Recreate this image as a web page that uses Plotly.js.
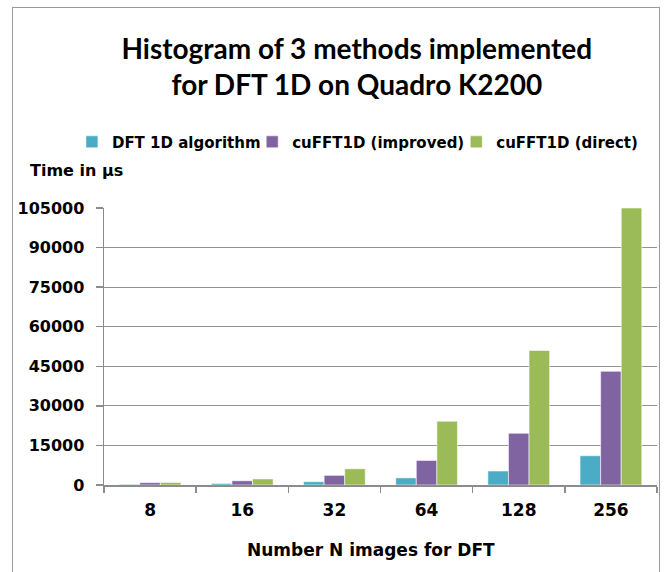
<!DOCTYPE html>
<html>
<head>
<meta charset="utf-8">
<script src="https://cdn.plot.ly/plotly-3.0.1.min.js"></script>
<style>
  html, body { margin: 0; padding: 0; background: #fff; }
  #wrap { position: relative; width: 667px; height: 572px; overflow: hidden; }
  #chart { position: absolute; left: 0; top: 0; width: 667px; height: 572px; }
  #frame { position: absolute; left: 12px; top: 7px; width: 646px; height: 640px;
           border: 1.5px solid #9a9a9a; pointer-events: none; }
</style>
</head>
<body>
<div id="wrap">
  <div id="chart"></div>
  <div id="frame"></div>
</div>
<script>
const categories = ['8', '16', '32', '64', '128', '256'];
const seriesNames = ['DFT 1D algorithm', 'cuFFT1D (improved)', 'cuFFT1D (direct)'];
const dft1d      = [250, 600, 1250, 2700, 5300, 11100];
const cufftImpr  = [900, 1600, 3650, 9300, 19600, 43100];
const cufftDir   = [950, 2300, 6150, 24200, 51000, 105000];
const yTicks     = [0, 15000, 30000, 45000, 60000, 75000, 90000, 105000];
const colors     = ['#4BACC6', '#8064A2', '#9BBB59'];

const values = [dft1d, cufftImpr, cufftDir];
const legendIds = ['legend', 'legend2', 'legend3'];
const traces = values.map((v, i) => ({
  type: 'bar',
  name: seriesNames[i],
  x: categories,
  y: v,
  marker: { color: colors[i], line: { color: 'rgba(255,255,255,0.7)', width: 0.8 } },
  legend: legendIds[i],
  hoverinfo: 'x+y+name'
}));

const tickFont = { family: 'DejaVu Sans', size: 16, color: '#000', weight: 'bold' };
const xTickFont = { family: 'DejaVu Sans', size: 17, color: '#000', weight: 'bold' };
const legFont = { family: 'DejaVu Sans', size: 15, color: '#000', weight: 'bold' };
const legBase = { orientation: 'h', font: legFont, bgcolor: 'rgba(0,0,0,0)',
                  xanchor: 'left', yanchor: 'middle', y: 1.238, borderwidth: 0 };

const layout = {
  width: 667, height: 572,
  margin: { l: 104, r: 10, t: 208, b: 87 },
  paper_bgcolor: '#fff', plot_bgcolor: '#fff',
  title: {
    text: 'Histogram of 3 methods implemented<br>for DFT 1D on Quadro K2200',
    font: { family: 'Lato', size: 28, color: '#000', weight: 'bold' },
    x: 0.535, xanchor: 'center', y: 0.897, yanchor: 'middle', yref: 'container', xref: 'container'
  },
  barmode: 'group', bargap: 0.33, bargroupgap: 0,
  xaxis: {
    type: 'category', categoryarray: categories,
    showline: true, linecolor: '#8c8c8c', linewidth: 1.5,
    ticks: 'outside', tickson: 'boundaries', ticklen: 6, tickcolor: '#8c8c8c', tickwidth: 1.5,
    tickfont: xTickFont, showgrid: false, ticklabelstandoff: 9
  },
  yaxis: {
    range: [0, 105000], tickvals: yTicks, tickformat: 'd',
    showline: true, linecolor: '#8c8c8c', linewidth: 1.5,
    ticks: 'outside', ticklen: 7, tickcolor: '#8c8c8c', tickwidth: 1.5,
    tickfont: tickFont, ticklabelstandoff: 8,
    showgrid: true, gridcolor: '#939393', gridwidth: 1.2, zeroline: false
  },
  legend:  Object.assign({}, legBase, { x: -0.058 }),
  legend2: Object.assign({}, legBase, { x: 0.268 }),
  legend3: Object.assign({}, legBase, { x: 0.637 }),
  annotations: [{
    text: 'Time in µs', xref: 'paper', yref: 'paper',
    x: -0.138, y: 1.136, xanchor: 'left', yanchor: 'middle', showarrow: false,
    font: { family: 'DejaVu Sans', size: 16, color: '#000', weight: 'bold' }
  }, {
    text: 'Number N images for DFT', xref: 'paper', yref: 'paper',
    x: 0.483, y: -0.2347, xanchor: 'center', yanchor: 'middle', showarrow: false,
    font: { family: 'DejaVu Sans', size: 17, color: '#000', weight: 'bold' }
  }],
  showlegend: true
};

Plotly.newPlot('chart', traces, layout, { displayModeBar: false, staticPlot: true });
</script>
</body>
</html>
